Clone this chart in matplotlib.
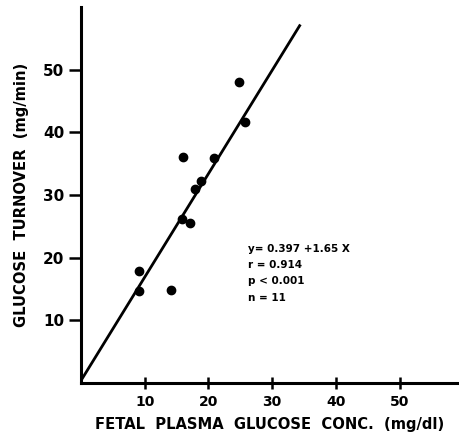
import numpy as np
from matplotlib import pyplot as plt

# fetal plasma glucose (mg/dl) vs glucose turnover (mg/min)
glucose = [9.1, 9.1, 14.1, 15.9, 17.1, 16.0, 17.9, 18.9, 20.9, 24.8, 25.7]
turnover = [17.9, 14.7, 14.8, 26.2, 25.5, 36.0, 31.0, 32.2, 35.9, 48.0, 41.6]

# regression line as given on the figure
a, b = 0.397, 1.65
x_end = 34.3

xticks = [10, 20, 30, 40, 50]
yticks = [10, 20, 30, 40, 50]

fig = plt.figure(figsize=(4.59, 4.40), dpi=100)
ax = fig.add_axes([0.1765, 0.1295, 0.8235, 0.855])

xx = np.array([0, x_end])
ax.plot(xx, a + b * xx, color='black', lw=2)
ax.scatter(glucose, turnover, s=36, color='black', zorder=3)

ax.set_xlim(0, 59.3)
ax.set_ylim(0, 60)
ax.set_xticks(xticks)
ax.set_yticks(yticks)
ax.set_xticklabels([str(t) for t in xticks], fontsize=10, fontweight='bold')
ax.set_yticklabels([str(t) for t in yticks], fontsize=11, fontweight='bold')
ax.tick_params(axis='x', direction='inout', length=9, width=1.8, pad=4)
ax.tick_params(axis='y', direction='out', length=9, width=1.8, pad=3)

for s in ['top', 'right']:
    ax.spines[s].set_visible(False)
for s in ['left', 'bottom']:
    ax.spines[s].set_linewidth(2.2)

ax.set_xlabel('FETAL  PLASMA  GLUCOSE  CONC.  (mg/dl)', fontsize=10.6, fontweight='bold', labelpad=6)
ax.set_ylabel('GLUCOSE  TURNOVER  (mg/min)', fontsize=10.6, fontweight='bold', labelpad=10)

ax.text(26.2, 22.2, 'y= 0.397 +1.65 X\nr = 0.914\np < 0.001\nn = 11',
        fontsize=7.5, fontweight='bold', va='top', ha='left', linespacing=1.78)

plt.savefig('out.png', dpi=100)
